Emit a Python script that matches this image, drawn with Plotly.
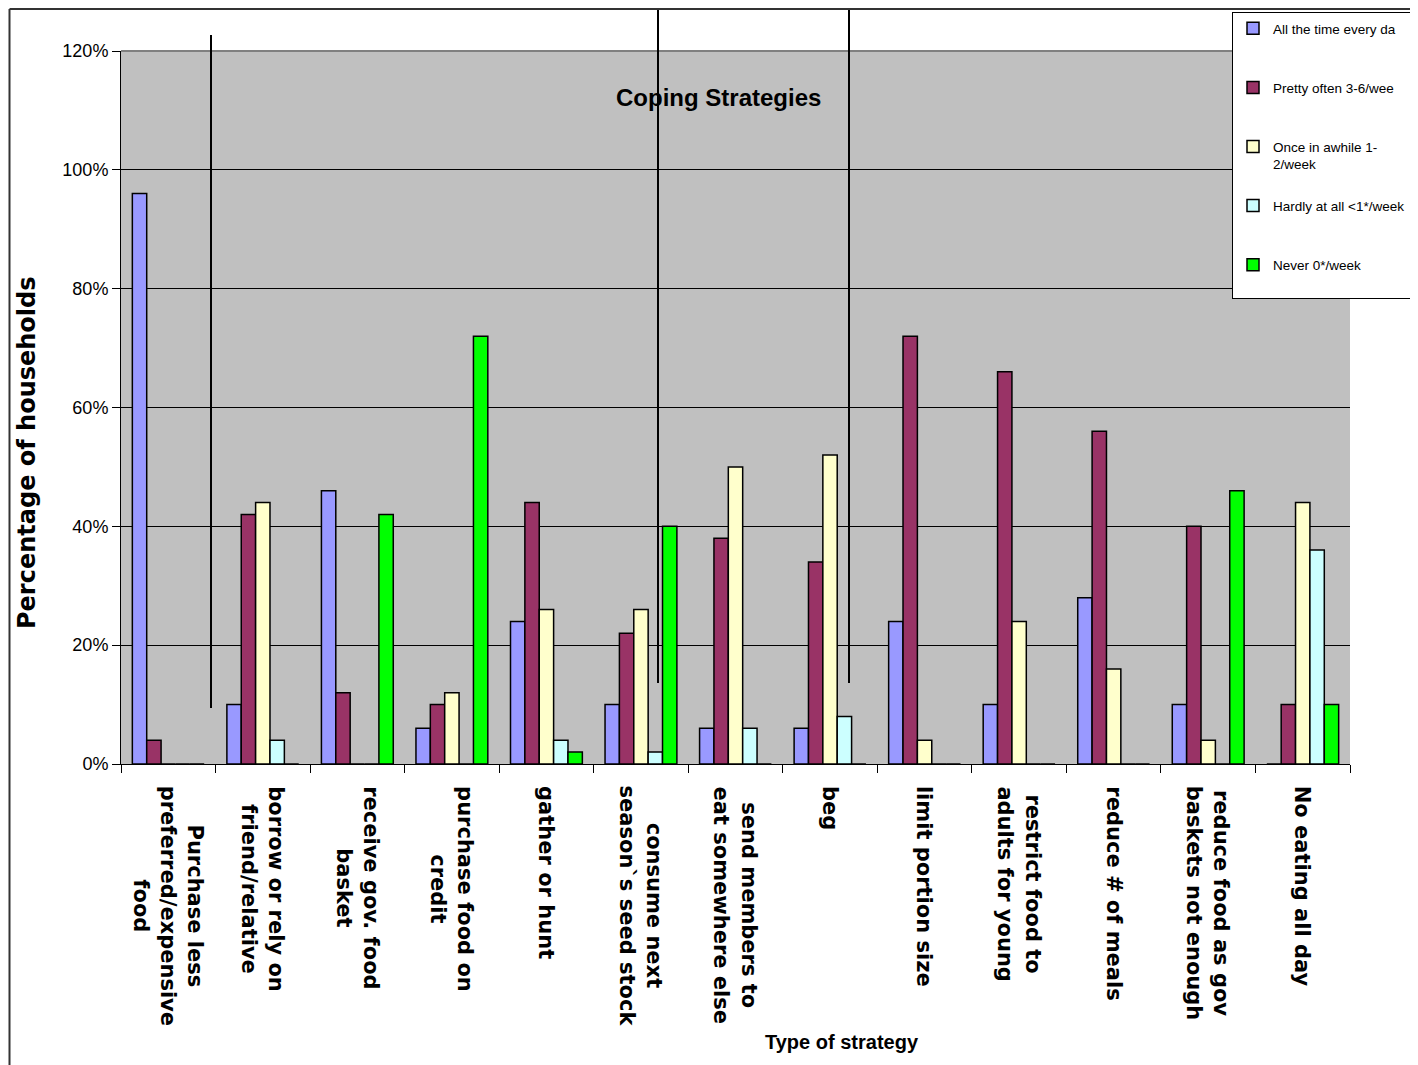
import plotly.graph_objects as go

categories = [
    "Purchase less<br>preferred/expensive<br>food",
    "borrow or rely on<br>friend/relative",
    "receive gov. food<br>basket",
    "purchase food on<br>credit",
    "gather or hunt",
    "consume next<br>season`s seed stock",
    "send members to<br>eat somewhere else",
    "beg",
    "limit portion size",
    "restrict food to<br>adults for young",
    "reduce # of meals",
    "reduce food as gov<br>baskets not enough",
    "No eating all day",
]

series_names = [
    "All the time every da",
    "Pretty often 3-6/wee",
    "Once in awhile 1-<br>2/week",
    "Hardly at all <1*/week",
    "Never 0*/week",
]

all_the_time = [0.96, 0.10, 0.46, 0.06, 0.24, 0.10, 0.06, 0.06, 0.24, 0.10, 0.28, 0.10, 0.00]
pretty_often = [0.04, 0.42, 0.12, 0.10, 0.44, 0.22, 0.38, 0.34, 0.72, 0.66, 0.56, 0.40, 0.10]
once_in_awhile = [0.00, 0.44, 0.00, 0.12, 0.26, 0.26, 0.50, 0.52, 0.04, 0.24, 0.16, 0.04, 0.44]
hardly_at_all = [0.00, 0.04, 0.00, 0.00, 0.04, 0.02, 0.06, 0.08, 0.00, 0.00, 0.00, 0.00, 0.36]
never = [0.00, 0.00, 0.42, 0.72, 0.02, 0.40, 0.00, 0.00, 0.00, 0.00, 0.00, 0.46, 0.10]

series_values = [all_the_time, pretty_often, once_in_awhile, hardly_at_all, never]
colors = ["#9999FF", "#993366", "#FFFFCC", "#CCFFFF", "#00FF00"]

y_tickvals = [0, 0.2, 0.4, 0.6, 0.8, 1.0, 1.2]
y_ticktext = ["0%", "20%", "40%", "60%", "80%", "100%", "120%"]

NARROW = "Liberation Sans, Arial, sans-serif"
WIDE = "DejaVu Sans, sans-serif"

fig = go.Figure()
for i, (name, vals, col) in enumerate(zip(series_names, series_values, colors)):
    # pad single-line legend entries to two lines so the entries are evenly spaced
    label = name if "<br>" in name else name + "<br> "
    fig.add_trace(go.Bar(
        x=categories, y=vals, name=label,
        marker=dict(color=col, line=dict(color="black", width=1.5)),
        legendgroup=f"g{i}",
    ))

# page has an 8px body margin; reference coordinates are screen pixels
W, H = 1410, 1057
L, R, T, B = 113, 68, 43, 301
X0, Y1 = 121, 764           # plot area left / bottom on screen
pw, ph = 1229, 713

def px(x):
    return (x - X0) / pw

def py(y):
    return (Y1 - y) / ph

annotations = [
    dict(text="<b>Coping Strategies</b>", x=px(718), y=py(97), xref="paper", yref="paper",
         xanchor="center", yanchor="middle",
         showarrow=False, font=dict(family=NARROW, size=24, color="black")),
    dict(text="<b>Percentage of households</b>", x=px(27), y=py(453), xref="paper", yref="paper",
         xanchor="center", yanchor="middle",
         showarrow=False, textangle=-90, font=dict(family=WIDE, size=24, color="black")),
    dict(text="<b>Type of strategy</b>", x=px(842), y=py(1042), xref="paper", yref="paper",
         xanchor="center", yanchor="middle",
         showarrow=False, font=dict(family=NARROW, size=20, color="black")),
]
for c in categories:
    annotations.append(dict(
        text="<b>" + c + "</b>", x=c, xref="x", y=py(784), yref="paper",
        yanchor="top", xanchor="center", textangle=90, align="center",
        showarrow=False, font=dict(family=WIDE, size=21, color="black"),
    ))

fig.update_layout(
    width=W, height=H,
    margin=dict(l=L, r=R, t=T, b=B, autoexpand=False),
    paper_bgcolor="white",
    plot_bgcolor="#C0C0C0",
    barmode="group",
    bargap=0.24,
    bargroupgap=0,
    showlegend=True,
    legend=dict(
        x=px(1232), y=py(12), xanchor="left", yanchor="top",
        bgcolor="white", bordercolor="black", borderwidth=1,
        font=dict(family=NARROW, size=13.5, color="black"),
        traceorder="grouped", tracegroupgap=21, valign="top",
        itemwidth=30,
    ),
    xaxis=dict(
        type="category",
        tickson="boundaries", ticks="outside", ticklen=8, tickcolor="black",
        showticklabels=False,
        showline=True, linecolor="black", linewidth=1,
        showgrid=False,
    ),
    yaxis=dict(
        range=[0, 1.2],
        tickvals=y_tickvals, ticktext=y_ticktext,
        ticks="outside", ticklen=8, tickcolor="black",
        tickfont=dict(family=NARROW, size=18, color="black"),
        showline=True, linecolor="black", linewidth=1,
        showgrid=True, gridcolor="black", gridwidth=1,
        zeroline=False,
    ),
    annotations=annotations,
    shapes=[
        dict(type="line", xref="paper", yref="paper", x0=0, x1=1, y0=1, y1=1,
             line=dict(color="#808080", width=2)),
        dict(type="line", xref="paper", yref="paper", x0=px(211), x1=px(211), y0=py(708), y1=py(35),
             line=dict(color="black", width=2)),
        dict(type="line", xref="paper", yref="paper", x0=px(658), x1=px(658), y0=py(683), y1=py(10),
             line=dict(color="black", width=2)),
        dict(type="line", xref="paper", yref="paper", x0=px(849), x1=px(849), y0=py(683), y1=py(10),
             line=dict(color="black", width=2)),
        dict(type="line", xref="paper", yref="paper", x0=px(9.5), x1=px(9.5), y0=py(9), y1=py(1066),
             line=dict(color="#333333", width=2)),
        dict(type="line", xref="paper", yref="paper", x0=px(9.5), x1=px(1418), y0=py(9), y1=py(9),
             line=dict(color="#333333", width=2)),
    ],
)

fig.write_html("out.html")
